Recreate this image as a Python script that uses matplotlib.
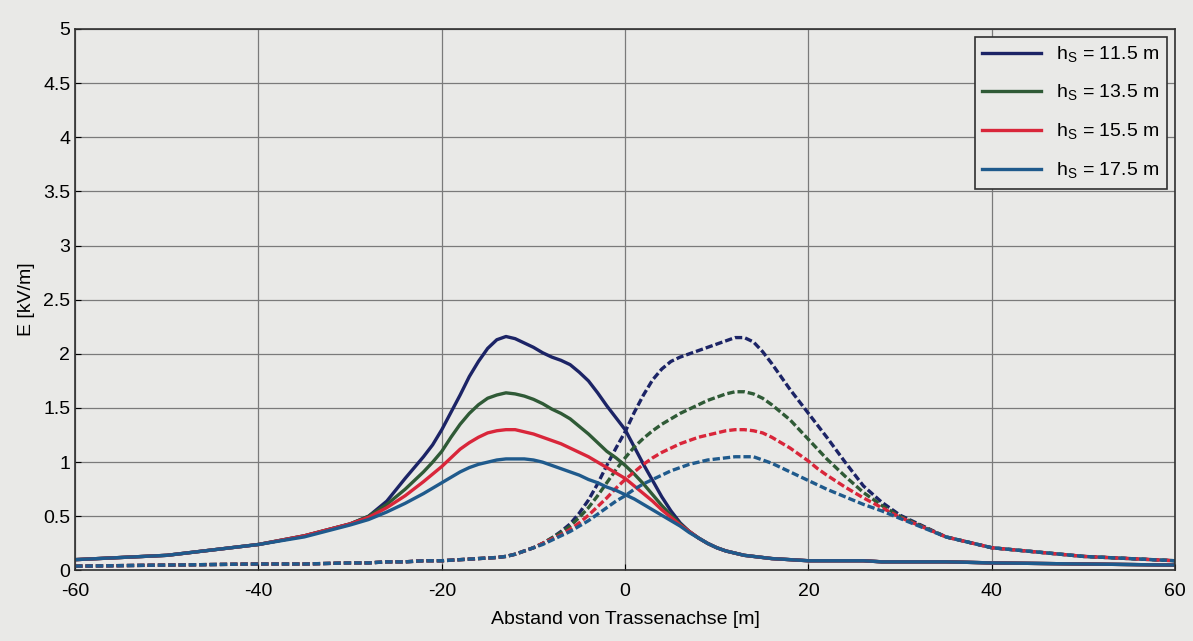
import matplotlib
matplotlib.use('Agg')
import matplotlib.pyplot as plt
from matplotlib.ticker import FormatStrFormatter

plt.rcParams['font.family'] = ['Liberation Sans', 'DejaVu Sans']
plt.rcParams['mathtext.fontset'] = 'custom'
plt.rcParams['mathtext.rm'] = 'Liberation Sans'
plt.rcParams['axes.unicode_minus'] = False

# distance from line axis [m]
x = [-60, -50, -40, -35, -30, -28, -26, -24,
     -22, -21, -20, -19, -18, -17, -16, -15, -14, -13, -12, -11, -10, -9, -8, -7,
     -6, -5, -4, -3, -2, -1, 0, 1, 2, 3, 4, 5, 6, 7, 8, 9, 10, 11, 12, 13, 14, 15,
     16, 17, 18, 19, 20, 21, 22,
     24, 26, 28, 30, 35, 40, 50, 60]

heights = ['11.5', '13.5', '15.5', '17.5']
colors = ['#1c2466', '#2f5a36', '#d9263a', '#1f5a8c']

# field of the left system (solid lines)
e_left_115 = [0.10, 0.14, 0.24, 0.32, 0.43, 0.50, 0.64, 0.85,
              1.05, 1.16, 1.30, 1.46, 1.62, 1.79, 1.93, 2.05, 2.13, 2.16, 2.14, 2.10,
              2.06, 2.01, 1.97, 1.94, 1.90, 1.83, 1.75, 1.64, 1.52, 1.41, 1.30, 1.14,
              0.98, 0.83, 0.68, 0.55, 0.44, 0.36, 0.30, 0.25, 0.21, 0.18, 0.16, 0.14,
              0.13, 0.12, 0.11, 0.105, 0.10, 0.095, 0.09, 0.09, 0.09,
              0.09, 0.09, 0.08, 0.08, 0.08, 0.07, 0.06, 0.05]
e_left_135 = [0.10, 0.14, 0.24, 0.32, 0.43, 0.50, 0.61, 0.75,
              0.91, 1.00, 1.10, 1.23, 1.35, 1.45, 1.53, 1.59, 1.62, 1.64, 1.63, 1.61,
              1.58, 1.54, 1.49, 1.45, 1.40, 1.33, 1.26, 1.18, 1.10, 1.04, 0.97, 0.89,
              0.80, 0.70, 0.60, 0.51, 0.43, 0.36, 0.30, 0.25, 0.21, 0.18, 0.16, 0.14,
              0.13, 0.12, 0.11, 0.105, 0.10, 0.095, 0.09, 0.09, 0.09,
              0.09, 0.09, 0.08, 0.08, 0.08, 0.07, 0.06, 0.05]
e_left_155 = [0.10, 0.14, 0.24, 0.32, 0.43, 0.49, 0.58, 0.69,
              0.82, 0.89, 0.96, 1.04, 1.12, 1.18, 1.23, 1.27, 1.29, 1.30, 1.30, 1.28,
              1.26, 1.23, 1.20, 1.17, 1.13, 1.09, 1.05, 1.00, 0.95, 0.90, 0.85, 0.78,
              0.71, 0.64, 0.56, 0.49, 0.42, 0.36, 0.30, 0.25, 0.21, 0.18, 0.16, 0.14,
              0.13, 0.12, 0.11, 0.105, 0.10, 0.095, 0.09, 0.09, 0.09,
              0.09, 0.09, 0.08, 0.08, 0.08, 0.07, 0.06, 0.05]
e_left_175 = [0.10, 0.14, 0.24, 0.31, 0.42, 0.47, 0.54, 0.62,
              0.71, 0.76, 0.81, 0.86, 0.91, 0.95, 0.98, 1.00, 1.02, 1.03, 1.03, 1.03,
              1.02, 1.00, 0.97, 0.94, 0.91, 0.88, 0.84, 0.81, 0.77, 0.74, 0.70, 0.66,
              0.61, 0.56, 0.51, 0.46, 0.41, 0.35, 0.30, 0.25, 0.21, 0.18, 0.16, 0.14,
              0.13, 0.12, 0.11, 0.105, 0.10, 0.095, 0.09, 0.09, 0.09,
              0.09, 0.09, 0.08, 0.08, 0.08, 0.07, 0.06, 0.05]

# field of the right system (dashed lines)
e_right_115 = [0.04, 0.05, 0.06, 0.06, 0.07, 0.07, 0.08, 0.08,
               0.09, 0.09, 0.09, 0.095, 0.10, 0.105, 0.11, 0.115, 0.12, 0.13, 0.15, 0.18,
               0.21, 0.25, 0.30, 0.36, 0.43, 0.53, 0.65, 0.80, 0.97, 1.13, 1.28, 1.46,
               1.62, 1.76, 1.86, 1.93, 1.97, 2.00, 2.03, 2.06, 2.09, 2.12, 2.15, 2.15,
               2.11, 2.02, 1.91, 1.79, 1.67, 1.56, 1.45, 1.34, 1.23,
               1.00, 0.78, 0.63, 0.51, 0.31, 0.21, 0.13, 0.09]
e_right_135 = [0.04, 0.05, 0.06, 0.06, 0.07, 0.07, 0.08, 0.08,
               0.09, 0.09, 0.09, 0.095, 0.10, 0.105, 0.11, 0.115, 0.12, 0.13, 0.15, 0.18,
               0.21, 0.25, 0.30, 0.35, 0.41, 0.49, 0.58, 0.69, 0.81, 0.93, 1.04, 1.14,
               1.22, 1.29, 1.35, 1.40, 1.45, 1.49, 1.53, 1.57, 1.60, 1.63, 1.65, 1.65,
               1.63, 1.59, 1.53, 1.46, 1.39, 1.30, 1.21, 1.12, 1.03,
               0.87, 0.72, 0.60, 0.50, 0.31, 0.21, 0.13, 0.09]
e_right_155 = [0.04, 0.05, 0.06, 0.06, 0.07, 0.07, 0.08, 0.08,
               0.09, 0.09, 0.09, 0.095, 0.10, 0.105, 0.11, 0.115, 0.12, 0.13, 0.15, 0.18,
               0.21, 0.25, 0.29, 0.33, 0.38, 0.44, 0.51, 0.59, 0.67, 0.76, 0.84, 0.91,
               0.98, 1.04, 1.09, 1.13, 1.17, 1.20, 1.23, 1.25, 1.27, 1.29, 1.30, 1.30,
               1.29, 1.27, 1.23, 1.18, 1.13, 1.07, 1.01, 0.94, 0.88,
               0.77, 0.67, 0.58, 0.49, 0.31, 0.21, 0.13, 0.09]
e_right_175 = [0.04, 0.05, 0.06, 0.06, 0.07, 0.07, 0.08, 0.08,
               0.09, 0.09, 0.09, 0.095, 0.10, 0.105, 0.11, 0.115, 0.12, 0.13, 0.15, 0.18,
               0.21, 0.24, 0.28, 0.32, 0.36, 0.41, 0.46, 0.52, 0.58, 0.64, 0.69, 0.75,
               0.80, 0.84, 0.88, 0.92, 0.95, 0.98, 1.00, 1.02, 1.03, 1.04, 1.05, 1.05,
               1.05, 1.02, 0.99, 0.95, 0.91, 0.87, 0.83, 0.79, 0.75,
               0.68, 0.61, 0.55, 0.48, 0.31, 0.21, 0.13, 0.09]

left = [e_left_115, e_left_135, e_left_155, e_left_175]
right = [e_right_115, e_right_135, e_right_155, e_right_175]

bg = '#e9e9e7'
fig = plt.figure(figsize=(11.93, 6.41), dpi=100, facecolor=bg)
ax = fig.add_axes([0.063, 0.11, 0.922, 0.845], facecolor=bg)

for h, c, el, er in zip(heights, colors, left, right):
    ax.plot(x, el, color=c, lw=2.4, label=r'h$_\mathrm{S}$ = ' + h + ' m')
    ax.plot(x, er, color=c, lw=2.4, ls=(0, (2.2, 0.9)))

ax.set_xlim(-60, 60)
ax.set_ylim(0, 5)
ax.set_xticks(range(-60, 61, 20))
ax.set_yticks([i * 0.5 for i in range(11)])
ax.yaxis.set_major_formatter(FormatStrFormatter('%g'))
ax.tick_params(direction='in', labelsize=14, length=4)
ax.tick_params(axis='x', pad=9)
ax.grid(True, color='#7a7a7a', lw=0.9)
for s in ax.spines.values():
    s.set_color('#303030')
    s.set_linewidth(1.2)

ax.set_xlabel('Abstand von Trassenachse [m]', fontsize=14, labelpad=8)
ax.set_ylabel('E [kV/m]', fontsize=14, labelpad=6)

leg = ax.legend(loc='upper right', fontsize=14, frameon=True, fancybox=False,
                edgecolor='#303030', facecolor=bg, framealpha=1,
                handlelength=3.0, labelspacing=0.95, borderaxespad=0.4)
leg.get_frame().set_linewidth(1.2)

fig.savefig('out.png', dpi=100, facecolor=bg)
